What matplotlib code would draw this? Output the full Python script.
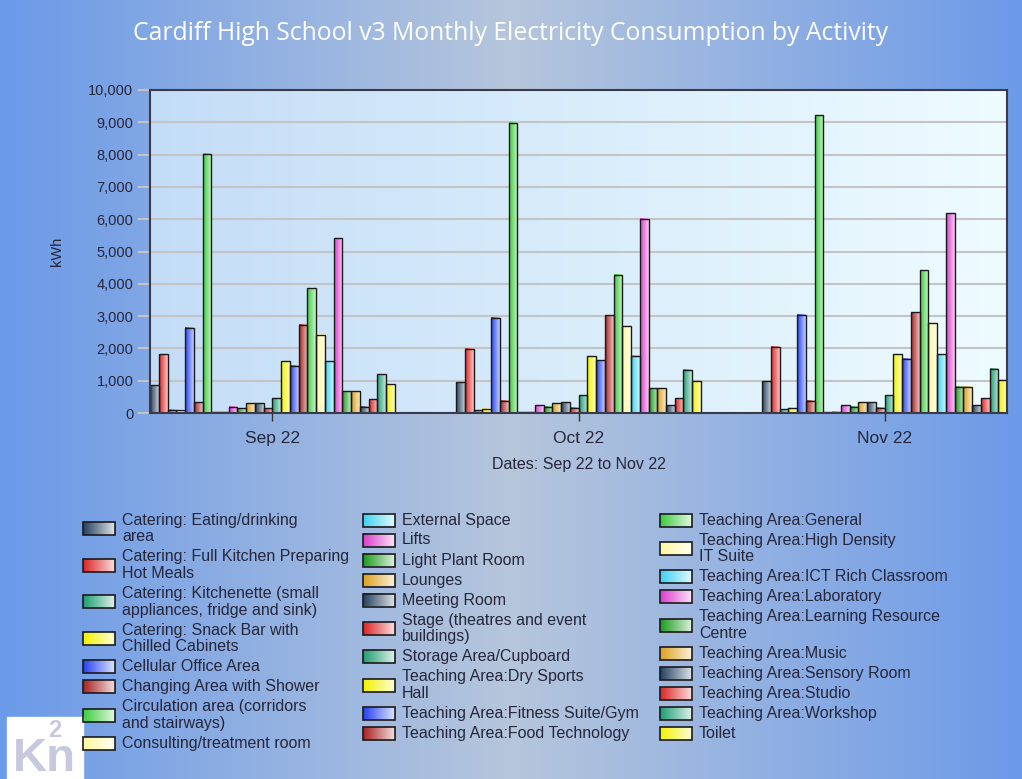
import numpy as np
import matplotlib
matplotlib.use('Agg')
import matplotlib.pyplot as plt
from matplotlib.colors import LinearSegmentedColormap, to_rgb
from matplotlib.ticker import FuncFormatter

plt.rcParams['font.family'] = 'Liberation Sans'

months = ['Sep 22', 'Oct 22', 'Nov 22']
activities = [
    'Catering: Eating/drinking\narea',
    'Catering: Full Kitchen Preparing\nHot Meals',
    'Catering: Kitchenette (small\nappliances, fridge and sink)',
    'Catering: Snack Bar with\nChilled Cabinets',
    'Cellular Office Area',
    'Changing Area with Shower',
    'Circulation area (corridors\nand stairways)',
    'Consulting/treatment room',
    'External Space',
    'Lifts',
    'Light Plant Room',
    'Lounges',
    'Meeting Room',
    'Stage (theatres and event\nbuildings)',
    'Storage Area/Cupboard',
    'Teaching Area:Dry Sports\nHall',
    'Teaching Area:Fitness Suite/Gym',
    'Teaching Area:Food Technology',
    'Teaching Area:General',
    'Teaching Area:High Density\nIT Suite',
    'Teaching Area:ICT Rich Classroom',
    'Teaching Area:Laboratory',
    'Teaching Area:Learning Resource\nCentre',
    'Teaching Area:Music',
    'Teaching Area:Sensory Room',
    'Teaching Area:Studio',
    'Teaching Area:Workshop',
    'Toilet',
]
# kWh per activity
sep_kwh = [865, 1820, 100, 100, 2640, 330, 8025, 30, 30, 195, 145, 300, 300, 145,
           460, 1595, 1470, 2725, 3855, 2425, 1595, 5405, 670, 670, 195, 420, 1200, 905]
oct_kwh = [945, 1995, 90, 140, 2950, 380, 8980, 30, 30, 245, 195, 300, 340, 155,
           555, 1770, 1635, 3030, 4285, 2690, 1780, 6020, 760, 760, 235, 460, 1335, 985]
nov_kwh = [985, 2045, 110, 155, 3040, 380, 9210, 40, 40, 245, 195, 340, 340, 155,
           555, 1820, 1675, 3125, 4420, 2775, 1820, 6185, 810, 810, 245, 460, 1375, 1030]

palette = ['#24405f', '#dc2424', '#1f9c72', '#f2f200', '#2442f0', '#a82222',
           '#3ccc3c', '#fff7a0', '#3cd2f2', '#dc3ccc', '#1c9c1c', '#dca01c']

values = np.array([sep_kwh, oct_kwh, nov_kwh])
n_act = len(activities)
bar_w = 0.8 / n_act

fig = plt.figure(figsize=(10.22, 7.79), dpi=100)

# figure background gradient
bg = fig.add_axes([0, 0, 1, 1], zorder=-10)
bg_cmap = LinearSegmentedColormap.from_list('bg', ['#6b9ae8', '#b6c6dc', '#6c9ae8'])
bg.imshow(np.linspace(0, 1, 256)[None, :], cmap=bg_cmap, aspect='auto', extent=[0, 1, 0, 1])
bg.set_axis_off()

ax = fig.add_axes([0.1468, 0.4698, 0.8386, 0.4147])
ax.set_facecolor('none')
area_cmap = LinearSegmentedColormap.from_list('area', ['#c4ddf7', '#eefcff'])
ax.imshow(np.linspace(0, 1, 256)[None, :], cmap=area_cmap, aspect='auto',
          extent=[0, 1, 0, 1], transform=ax.transAxes, zorder=0)

grad = np.linspace(0, 1, 64)[None, :]
x = np.arange(len(months))
for i, name in enumerate(activities):
    base = to_rgb(palette[i % len(palette)])
    light = tuple(c + (1 - c) * 0.75 for c in base)
    cmap = LinearSegmentedColormap.from_list(f'g{i}', [base, light])
    offs = -0.4 + bar_w * (i + 0.5)
    bars = ax.bar(x + offs, values[:, i], width=bar_w, facecolor='none',
                  edgecolor='#1a1a1a', linewidth=1.0, zorder=4)
    for b in bars:
        ax.imshow(grad, cmap=cmap, aspect='auto', zorder=3,
                  extent=[b.get_x(), b.get_x() + b.get_width(), 0, b.get_height()])

ax.set_xlim(-0.4, 2.4)
ax.set_ylim(0, 10000)
ax.set_yticks(np.arange(0, 10001, 1000))
ax.yaxis.set_major_formatter(FuncFormatter(lambda v, p: f'{v:,.0f}'))
ax.grid(axis='y', color='#c4c4c4', linewidth=1.5, zorder=1)
ax.set_axisbelow(True)
ax.tick_params(axis='y', length=9, width=1.5, color='#c4c4c4', pad=3,
               labelsize=10.5, labelcolor='#26263a')
ax.set_xticks(x, labels=months)
ax.tick_params(axis='x', length=6, width=1, color='#333333', pad=7,
               labelsize=12.5, labelcolor='#26263a')
for s in ax.spines.values():
    s.set_color('#3a3a48')
    s.set_linewidth(1.5)
    s.set_zorder(5)

ax.set_ylabel('kWh', fontsize=10.5, color='#26263a')
ax.yaxis.set_label_coords(-0.108, 0.5)
ax.yaxis.label.set_va('center')
ax.set_xlabel('Dates: Sep 22 to Nov 22', fontsize=11.5, color='#26263a')
ax.xaxis.set_label_coords(0.5, -0.158)
ax.xaxis.label.set_va('center')

fig.text(0.5, 1 - 33 / 779, 'Cardiff High School v3 Monthly Electricity Consumption by Activity',
         ha='center', va='center', color='white', fontsize=17.8, family='Open Sans')

# legend, three independent columns, in pixel coordinates
lg = fig.add_axes([0, 0, 1, 1], zorder=5)
lg.set_xlim(0, 1022)
lg.set_ylim(779, 0)
lg.set_axis_off()
columns = [(83, 122, range(0, 8)), (363, 402, range(8, 18)), (660, 699, range(18, 28))]
sw_grad = np.linspace(0, 1, 64)[None, :]
for sx, tx, idx in columns:
    top = 510
    for i in idx:
        lines = activities[i].count('\n') + 1
        h = 3.3 + 16.7 * lines
        cy = top + h / 2
        base = to_rgb(palette[i % len(palette)])
        light = tuple(c + (1 - c) * 0.85 for c in base)
        cmap = LinearSegmentedColormap.from_list(f'l{i}', [base, light])
        lg.imshow(sw_grad, cmap=cmap, aspect='auto', extent=[sx, sx + 32, cy + 6.5, cy - 6.5], zorder=1)
        lg.add_patch(plt.Rectangle((sx, cy - 6.5), 32, 13, fill=False, edgecolor='#1a1a1a', linewidth=1.2, zorder=2))
        lg.text(tx, cy, activities[i], va='center', ha='left', fontsize=11.5,
                color='#26263a', linespacing=1.13)
        top += h

# logo
lg.add_patch(plt.Rectangle((7, 717), 76, 62, color='white', zorder=1))
lg.text(13, 771, 'Kn', fontsize=34, fontweight='bold', color='#c6c9de', va='baseline', ha='left', zorder=2)
lg.text(48, 737, '2', fontsize=17, fontweight='bold', color='#c6c9de', va='baseline', ha='left', zorder=2)

fig.savefig('out.png', dpi=100)
